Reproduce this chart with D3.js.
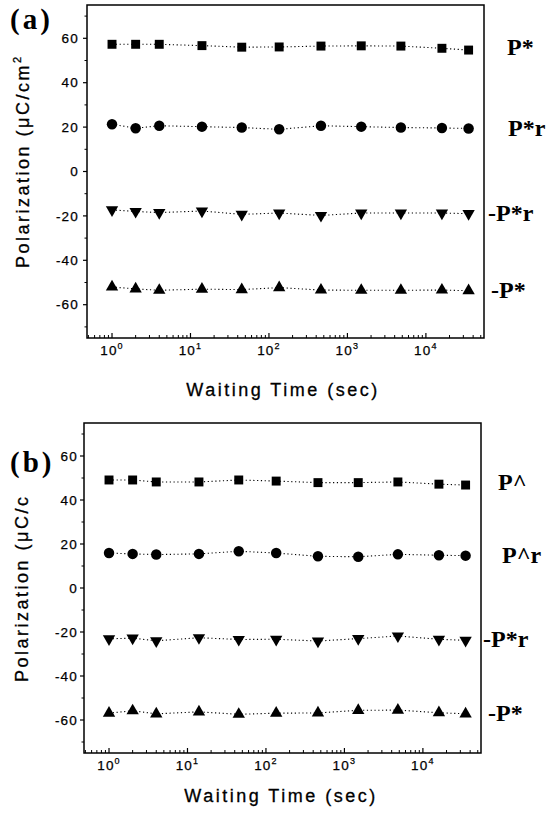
<!DOCTYPE html>
<html>
<head>
<meta charset="utf-8">
<script src="https://cdn.jsdelivr.net/npm/d3@7"></script>
<style>
  body { margin: 0; background: #fff; }
  svg { display: block; }
  .frame { fill: none; stroke: #000; stroke-width: 1.5; }
  .ticklabel { font-family: "Liberation Sans", Arial, sans-serif; font-size: 13.5px; letter-spacing: 1.2px; fill: #000; stroke: #000; stroke-width: 0.25; }
  .axistitle { font-family: "Liberation Sans", Arial, sans-serif; font-size: 18px; letter-spacing: 2.5px; fill: #000; stroke: #000; stroke-width: 0.3; }
  .serieslabel { font-family: "Liberation Serif", "Times New Roman", serif; font-weight: bold; font-size: 24px; fill: #000; }
  .panellabel { font-family: "Liberation Serif", "Times New Roman", serif; font-weight: bold; font-size: 29px; letter-spacing: 3px; fill: #000; }
  .conn { fill: none; stroke: #000; stroke-width: 1.1; stroke-dasharray: 1.2,2.6; }
</style>
</head>
<body>
<div id="chart"></div>
<script>
// waiting times (sec), same for both panels
const times = [1, 2, 4, 14, 45, 135, 460, 1500, 4800, 16000, 35000];

// panel (a)
const aPstar   = [57.3, 57.3, 57.3, 56.7, 56.0, 56.1, 56.5, 56.6, 56.5, 55.5, 54.7];
const aPstarR  = [21.3, 19.5, 20.6, 20.2, 19.8, 19.0, 20.6, 20.2, 19.8, 19.6, 19.4];
const aNPstarR = [-17.3, -18.0, -18.5, -17.8, -19.3, -18.7, -19.8, -18.7, -18.7, -18.7, -19.0];
const aNPstar  = [-52.0, -52.9, -53.5, -53.0, -53.2, -52.3, -53.4, -53.5, -53.5, -53.4, -53.7];

// panel (b)
const bPhat    = [49.1, 49.1, 48.2, 48.2, 49.1, 48.6, 47.9, 47.9, 48.2, 47.2, 46.8];
const bPhatR   = [15.9, 15.5, 15.2, 15.5, 16.7, 15.9, 14.4, 14.2, 15.3, 14.9, 14.7];
const bNPstarR = [-23.1, -22.8, -24.0, -22.6, -23.4, -23.3, -24.1, -23.0, -21.8, -23.3, -23.8];
const bNPstar  = [-56.9, -55.8, -57.2, -56.3, -57.4, -56.9, -56.8, -55.6, -55.5, -56.7, -57.2];

const seriesNamesA = ["P*", "P*r", "-P*r", "-P*"];
const seriesNamesB = ["P^", "P^r", "-P*r", "-P*"];
const markerTypes = ["square", "circle", "down", "up"];

const yTicks = [-60, -40, -20, 0, 20, 40, 60];
const yMinorTicks = [-70, -50, -30, -10, 10, 30, 50, 70];
const xExponents = [0, 1, 2, 3, 4];
const xDomain = [0.48, 55000];
const yDomain = [-75, 75];

const width = 552, height = 821;

const svg = d3.select("#chart").append("svg")
    .attr("width", width)
    .attr("height", height);

const panels = [
  { label: "(a)", labelX: 10, labelY: 29, left: 87, right: 484, top: 5, bottom: 338,
    series: [aPstar, aPstarR, aNPstarR, aNPstar], names: seriesNamesA,
    yTitle: "Polarization (\u03bcC/cm", ySup: "2", yTitleX: 29, yTitleY: 268,
    xTitleX: 283, xTitleY: 396, tickGap: 8,
    nameX: [507, 508, 488, 491] },
  { label: "(b)", labelX: 10, labelY: 472, left: 84, right: 481, top: 423, bottom: 753,
    series: [bPhat, bPhatR, bNPstarR, bNPstar], names: seriesNamesB,
    yTitle: "Polarization (\u03bcC/c", ySup: null, yTitleX: 28, yTitleY: 682,
    xTitleX: 281, xTitleY: 802, tickGap: 6,
    nameX: [498, 502, 483, 488] }
];

panels.forEach(p => drawPanel(p));

function drawPanel(p) {
  const x = d3.scaleLog().domain(xDomain).range([p.left, p.right]);
  const y = d3.scaleLinear().domain(yDomain).range([p.bottom, p.top]);

  const g = svg.append("g");

  // minor x ticks (2..9 in each decade), pointing inward
  let xMinor = [];
  for (let e = -1; e <= 4; e++) {
    for (let m = 2; m <= 9; m++) {
      const v = m * Math.pow(10, e);
      if (v > xDomain[0] && v < xDomain[1]) xMinor.push(v);
    }
  }
  const xMajor = xExponents.map(e => Math.pow(10, e));

  g.selectAll(".xminor").data(xMinor).enter().append("line")
      .attr("class", "xminor")
      .attr("x1", d => x(d)).attr("x2", d => x(d))
      .attr("y1", p.bottom).attr("y2", p.bottom - 3)
      .attr("stroke", "#000").attr("stroke-width", 1);

  g.selectAll(".xmajor").data(xMajor).enter().append("line")
      .attr("class", "xmajor")
      .attr("x1", d => x(d)).attr("x2", d => x(d))
      .attr("y1", p.bottom).attr("y2", p.bottom - 5)
      .attr("stroke", "#000").attr("stroke-width", 1.2);

  // x tick labels 10^n
  const xl = g.selectAll(".xlab").data(xExponents).enter().append("text")
      .attr("class", "ticklabel")
      .attr("x", d => x(Math.pow(10, d)))
      .attr("y", p.bottom + 17)
      .attr("text-anchor", "middle");
  xl.append("tspan").text("10");
  xl.append("tspan").attr("dy", -6).attr("font-size", "9px").text(d => d);

  // y ticks, pointing outward
  g.selectAll(".ymajor").data(yTicks).enter().append("line")
      .attr("x1", p.left).attr("x2", p.left - 4)
      .attr("y1", d => y(d)).attr("y2", d => y(d))
      .attr("stroke", "#000").attr("stroke-width", 1.2);

  g.selectAll(".yminor").data(yMinorTicks).enter().append("line")
      .attr("x1", p.left).attr("x2", p.left - 2.5)
      .attr("y1", d => y(d)).attr("y2", d => y(d))
      .attr("stroke", "#000").attr("stroke-width", 1);

  g.selectAll(".ylab").data(yTicks).enter().append("text")
      .attr("class", "ticklabel")
      .attr("x", p.left - p.tickGap)
      .attr("y", d => y(d))
      .attr("dy", "0.35em")
      .attr("text-anchor", "end")
      .text(d => d);

  // frame
  g.append("rect")
      .attr("class", "frame")
      .attr("x", p.left).attr("y", p.top)
      .attr("width", p.right - p.left)
      .attr("height", p.bottom - p.top);

  // series
  const line = d3.line()
      .x((d, i) => x(times[i]))
      .y(d => y(d));

  p.series.forEach((vals, si) => {
    g.append("path")
        .attr("class", "conn")
        .attr("d", line(vals));

    const type = markerTypes[si];
    let sym;
    if (type == "square") sym = d3.symbol().type(d3.symbolSquare).size(80);
    else if (type == "circle") sym = d3.symbol().type(d3.symbolCircle).size(86);
    else sym = d3.symbol().type(d3.symbolTriangle).size(66);

    g.selectAll(".m" + si).data(vals).enter().append("path")
        .attr("d", sym)
        .attr("fill", "#000")
        .attr("transform", (d, i) => {
          let t = "translate(" + x(times[i]) + "," + y(d) + ")";
          if (type == "down") t += " rotate(180)";
          return t;
        });

    // series name on the right
    g.append("text")
        .attr("class", "serieslabel")
        .attr("x", p.nameX[si])
        .attr("y", y(d3.mean(vals)))
        .attr("dy", "0.35em")
        .text(p.names[si]);
  });

  // axis titles
  g.append("text")
      .attr("class", "axistitle")
      .attr("x", p.xTitleX)
      .attr("y", p.xTitleY)
      .attr("text-anchor", "middle")
      .text("Waiting Time (sec)");

  const yt = g.append("text")
      .attr("class", "axistitle")
      .attr("transform", "translate(" + p.yTitleX + "," + p.yTitleY + ") rotate(-90)")
      .attr("text-anchor", "start");
  yt.append("tspan").text(p.yTitle);
  if (p.ySup) {
    yt.append("tspan").attr("dy", -8).attr("font-size", "11px").text(p.ySup);
  }

  // panel label
  g.append("text")
      .attr("class", "panellabel")
      .attr("x", p.labelX)
      .attr("y", p.labelY)
      .text(p.label);
}
</script>
</body>
</html>
